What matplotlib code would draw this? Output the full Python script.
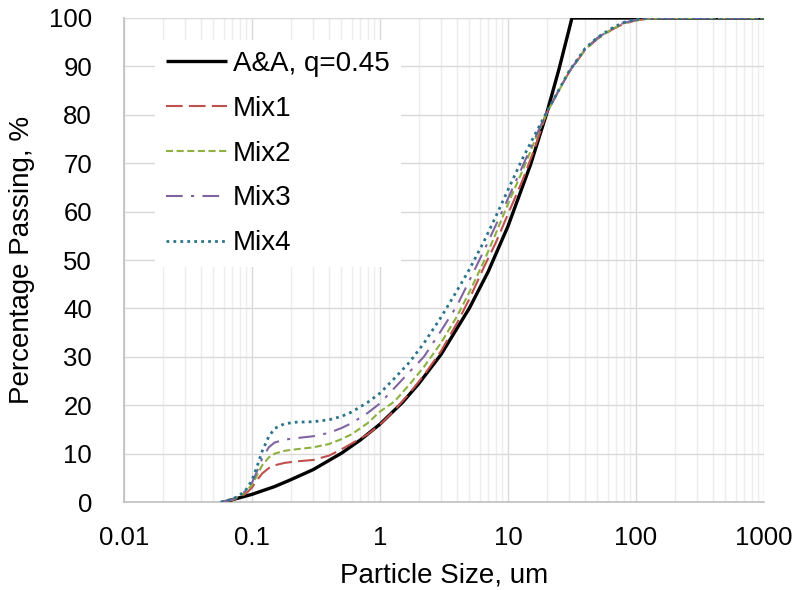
"""Particle size distribution: A&A target curve vs four mixes."""
import matplotlib
matplotlib.use("Agg")
import matplotlib.pyplot as plt
from matplotlib.ticker import LogLocator, FixedLocator, FixedFormatter

plt.rcParams["font.family"] = ["Liberation Sans", "DejaVu Sans"]

# A&A target curve (q = 0.45)
aa_size = [0.06, 0.08, 0.1, 0.15, 0.2, 0.3, 0.5, 0.7, 1, 1.5, 2, 3, 5, 7,
           10, 15, 20, 25, 31.6, 1000]
aa_pass = [0.0, 0.9, 1.6, 3.2, 4.6, 6.7, 10.1, 12.8, 16.1, 20.6, 24.4, 30.5,
           40.1, 47.6, 57.0, 69.7, 80.2, 89.4, 100.0, 100.0]

# shared size grid for the mixes, um
mix_size = [0.057, 0.07, 0.08, 0.09, 0.1, 0.11, 0.12, 0.135, 0.15, 0.18,
            0.22, 0.3, 0.4, 0.5, 0.6, 0.8, 1, 1.3, 1.7, 2.2, 3, 4, 5, 6.5,
            8, 10, 13, 16, 20, 25, 30, 40, 50, 65, 80, 100, 130, 160, 1000]

mix1 = [0.0, 0.4, 1.0, 1.8, 3.0, 4.6, 5.9, 7.0, 7.6, 8.1, 8.4, 8.7, 9.6,
        10.9, 12.1, 14.0, 16.0, 19.0, 22.5, 26.2, 31.2, 37.0, 42.0, 48.6,
        53.5, 59.5, 66.5, 72.8, 80.3, 85.1, 88.8, 93.4, 95.7, 97.6, 98.8,
        99.5, 99.9, 100.0, 100.0]
mix2 = [0.0, 0.5, 1.2, 2.2, 3.6, 5.6, 7.6, 9.2, 10.0, 10.6, 10.9, 11.3,
        12.0, 13.0, 14.0, 16.3, 18.7, 20.8, 24.3, 27.9, 32.9, 38.4, 43.4,
        49.8, 55.4, 61.6, 68.5, 74.3, 80.3, 85.0, 88.9, 93.5, 95.8, 97.7,
        98.9, 99.5, 99.9, 100.0, 100.0]
mix3 = [0.0, 0.5, 1.3, 2.4, 4.0, 6.5, 9.0, 11.3, 12.3, 12.9, 13.2, 13.6,
        14.3, 15.3, 16.3, 18.4, 20.4, 23.6, 26.9, 30.0, 35.4, 40.6, 45.8,
        52.0, 57.1, 62.7, 69.4, 74.8, 80.4, 85.1, 88.9, 93.6, 95.9, 97.8,
        99.0, 99.6, 100.0, 100.0, 100.0]
mix4 = [0.0, 0.6, 1.4, 2.6, 4.5, 7.5, 10.5, 13.5, 15.2, 16.2, 16.5, 16.6,
        17.0, 17.7, 18.6, 20.6, 22.5, 25.6, 28.9, 32.8, 38.2, 43.7, 48.1,
        53.9, 58.9, 64.5, 71.0, 75.6, 80.5, 85.2, 89.0, 93.7, 96.0, 97.9,
        99.1, 99.7, 100.0, 100.0, 100.0]

x_ticks = [0.01, 0.1, 1, 10, 100, 1000]
x_tick_labels = ["0.01", "0.1", "1", "10", "100", "1000"]
y_ticks = list(range(0, 101, 10))

fig = plt.figure(figsize=(7.97, 5.90), dpi=100)
ax = fig.add_axes([0.1556, 0.149, 0.803, 0.8205])

ax.plot(aa_size, aa_pass, color="black", lw=2.4, label="A&A, q=0.45",
        solid_capstyle="butt", zorder=3)
ax.plot(mix_size, mix1, color="#C0504D", lw=1.5, dashes=(8, 3),
        label="Mix1", zorder=4)
ax.plot(mix_size, mix2, color="#8DB040", lw=1.5, dashes=(3.4, 1.7),
        label="Mix2", zorder=4)
ax.plot(mix_size, mix3, color="#8064A2", lw=1.5, dashes=(8, 4, 1.5, 4),
        label="Mix3", zorder=4)
ax.plot(mix_size, mix4, color="#2B7489", lw=2.0, dashes=(1, 1.5),
        label="Mix4", zorder=5)

ax.set_xscale("log")
ax.set_xlim(0.01, 1000)
ax.set_ylim(0, 100)
ax.xaxis.set_major_locator(FixedLocator(x_ticks))
ax.xaxis.set_major_formatter(FixedFormatter(x_tick_labels))
ax.xaxis.set_minor_locator(LogLocator(base=10, subs=range(2, 10), numticks=20))
ax.set_yticks(y_ticks)

ax.grid(which="major", color="#D9D9D9", lw=1.0)
ax.grid(which="minor", axis="x", color="#EDEDED", lw=1.0)
ax.set_axisbelow(True)
ax.tick_params(which="both", length=0, labelsize=18.5, colors="black")
ax.tick_params(axis="x", pad=17.5)
ax.tick_params(axis="y", pad=23)

for side in ("top", "right"):
    ax.spines[side].set_visible(False)
for side in ("left", "bottom"):
    ax.spines[side].set_color("#BFBFBF")
    ax.spines[side].set_linewidth(1.2)

ax.set_xlabel("Particle Size, um", fontsize=20, labelpad=9)
ax.set_ylabel("Percentage Passing, %", fontsize=20, labelpad=10)

leg = ax.legend(loc="upper left", bbox_to_anchor=(0.027, 0.984),
                fontsize=20, frameon=True, fancybox=False, framealpha=1,
                edgecolor="white", handlelength=2.2, handletextpad=0.2,
                labelspacing=0.68, borderpad=0.4)
leg.get_frame().set_linewidth(0)

fig.savefig("out.png", dpi=100)
